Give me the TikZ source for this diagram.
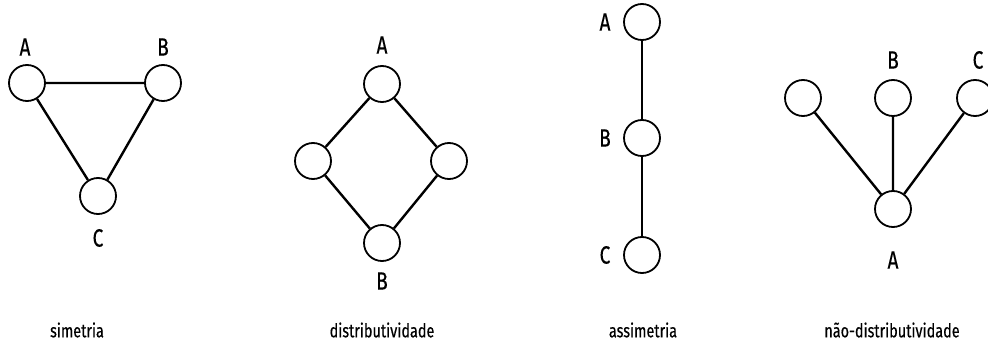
\documentclass[tikz,border=0pt]{standalone}
\usepackage{fontspec}
\setmainfont{Fira Sans}[FakeStretch=0.76,FakeBold=0.4]
\usepackage{tikz}
\tikzset{
  latnode/.style={circle,draw=black,fill=white,line width=1.8pt,minimum size=36pt,inner sep=0pt},
  latedge/.style={line width=2.4pt},
  latname/.style={font=\fontsize{25}{27}\selectfont},
  latcaption/.style={font=\fontsize{19}{21}\selectfont}
}
\begin{document}
\begin{tikzpicture}[x=1pt,y=-1pt]
  \useasboundingbox (0,0) rectangle (988,350);
  % simetria
  \node[latnode] (sA) at (27,83) {};
  \node[latnode] (sB) at (163,83) {};
  \node[latnode] (sC) at (98,196) {};
  \draw[latedge] (sA)--(sB) (sB)--(sC) (sC)--(sA);
  \node[latname] (sAlab) at (25,47) {A};
  \node[latname] (sBlab) at (163,47) {B};
  \node[latname] (sClab) at (98,238) {C};
  % distributividade
  \node[latnode] (dA) at (382,84) {};
  \node[latnode] (dL) at (313,161) {};
  \node[latnode] (dR) at (449,161) {};
  \node[latnode] (dB) at (382,243) {};
  \draw[latedge] (dA)--(dL) (dL)--(dB) (dB)--(dR) (dR)--(dA);
  \node[latname] (dAlab) at (382,45) {A};
  \node[latname] (dBlab) at (382,281) {B};
  % assimetria
  \node[latnode] (aA) at (642,22) {};
  \node[latnode] (aB) at (642,138) {};
  \node[latnode] (aC) at (642,255) {};
  \draw[latedge] (aA)--(aB) (aB)--(aC);
  \node[latname] (aAlab) at (605,22) {A};
  \node[latname] (aBlab) at (605,138) {B};
  \node[latname] (aClab) at (605,255) {C};
  % nao-distributividade
  \node[latnode] (nL) at (803,98) {};
  \node[latnode] (nB) at (893,98) {};
  \node[latnode] (nC) at (975,98) {};
  \node[latnode] (nA) at (893,209) {};
  \draw[latedge] (nA)--(nL) (nA)--(nB) (nA)--(nC);
  \node[latname] (nBlab) at (893,60) {B};
  \node[latname] (nClab) at (978,60) {C};
  \node[latname] (nAlab) at (893,260) {A};
  % legendas
  \node[latcaption] (capS) at (77,330) {simetria};
  \node[latcaption] (capD) at (382,330) {distributividade};
  \node[latcaption] (capA) at (643,330) {assimetria};
  \node[latcaption] (capN) at (892,330) {não-distributividade};
\end{tikzpicture}
\end{document}
